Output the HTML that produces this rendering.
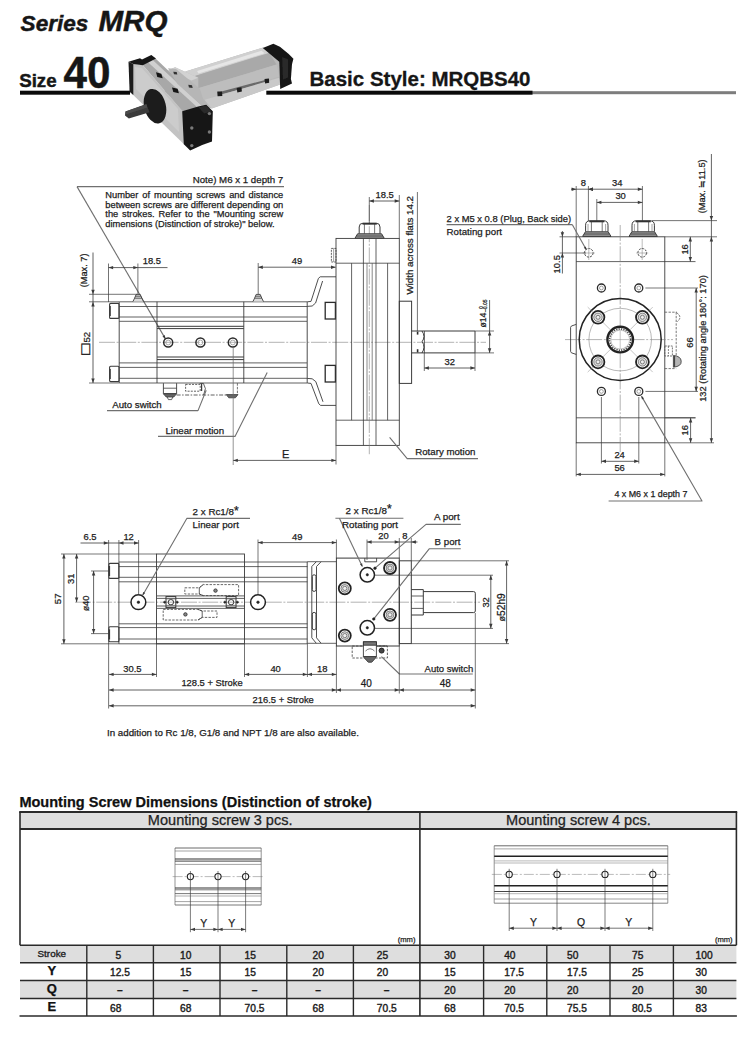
<!DOCTYPE html>
<html lang="en">
<head>
<meta charset="utf-8">
<title>Series MRQ Size 40 - Basic Style: MRQBS40</title>
<style>
html,body{margin:0;padding:0;background:#fff;}
body{width:750px;height:1042px;overflow:hidden;position:relative;}
svg{position:absolute;left:0;top:0;display:block;}
svg text{font-family:"Liberation Sans",Arial,Helvetica,sans-serif;}
</style>
</head>
<body>
<svg width="750" height="1042" viewBox="0 0 750 1042">
<defs>
<filter id="soft" x="-5%" y="-5%" width="110%" height="110%"><feGaussianBlur stdDeviation="0.7"/></filter>
<filter id="soft2" x="-5%" y="-5%" width="110%" height="110%"><feGaussianBlur stdDeviation="0.35"/></filter>
</defs>
<g id="header">
<rect x="532" y="91.2" width="204" height="3" fill="#7d7d7d"/>
<rect x="20" y="90.7" width="512.5" height="4" fill="#0a0a0a"/>
<g filter="url(#soft)">
<polygon points="130,89 133.3,89 133.3,95.7 130,95.7" fill="#ffffff"/>
<polygon points="244,89.6 266.3,89.6 266.3,95.4 244,95.4" fill="#ffffff"/>
<polygon points="185.3,71.4 263.1,47.5 279.2,61.4 280.2,84.6 211.7,108.6 185.3,103.9" fill="#b8b8b8"/>
<polygon points="185.3,71.4 263.1,47.5 269.2,52.9 185.3,79" fill="#d0d0d0"/>
<polygon points="197.1,70.9 261.6,50.8 264.5,53.3 198.5,73.4" fill="#e6e6e6"/>
<polygon points="185.3,79 269.2,52.9 276.6,64.6 189.7,90.7" fill="#a9a9a9"/>
<polygon points="189.7,90.7 276.6,64.6 279.2,76.4 204.4,99.8" fill="#bdbdbd"/>
<polygon points="168.1,70.2 175.1,67.3 198.3,77.8 198.3,90.1 188,93.9" fill="#bdbdbd"/>
<polygon points="168.1,70.2 175.1,67.3 198.3,77.8 191.5,80.5" fill="#d2d2d2"/>
<polygon points="217.6,92.5 268.9,79 269.5,81.6 218.5,95.1" fill="#6a6a6a"/>
<polygon points="204.4,99.8 279.2,77.8 280.2,84.6 211.7,108.6" fill="#c9c9c9"/>
<polygon points="217.3,91.5 222,91.5 222.3,95.9 217.6,96.2" fill="#1a1a1a"/>
<polygon points="236.7,88.1 241.4,87.2 241.9,91.6 237.3,92.5" fill="#1a1a1a"/>
<polygon points="264.5,79 268.9,78.4 269.2,82.8 265.1,83.4" fill="#1a1a1a"/>
<polygon points="262.8,47.9 273.3,43.8 279.9,46.7 288.7,54.1 293.4,58.8 292,64.3 290.9,79 292,83.4 280.2,89 279.2,61.7" fill="#151515"/>
<polygon points="282.1,57 288,59.2 288,77.5 282.9,79.7" fill="#2a2a2a"/>
<polygon points="142.7,65 155.3,58.3 205.3,105.7 182.7,111.9" fill="#a8a8a8"/>
<polygon points="148,62.3 152.7,59.9 202.7,106.6 198,107.9" fill="#d0d0d0"/>
<polygon points="168,68.3 176,69 200,89 205.3,105.7 202.7,106.6 177.3,83.7" fill="#b6b6b6"/>
<polygon points="156,72.3 161.3,73.7 162.7,78.3 157.3,77" fill="#151515"/>
<polygon points="172,87.4 177.6,88.7 178.9,93.3 173.3,91.9" fill="#151515"/>
<polygon points="173.3,71.7 176.7,72.1 177.3,74.6 174,74.2" fill="#333"/>
<polygon points="188.3,84.7 192,85.3 192.7,87.9 188.9,87.4" fill="#333"/>
<polygon points="132.7,63.7 142.7,65 183,111.5 184.2,144.4 132.7,94.6" fill="#c3c3c3"/>
<polygon points="135,67 142,68 178,109 179,132 136,89" fill="#cccccc"/>
<polygon points="128.5,61.7 133.3,63.9 133.3,94.9 129.6,91.7" fill="#1c1c1c"/>
<polygon points="128.5,61.7 140,58.3 142,59.4 151.3,54.9 156,58.6 142.9,65.3 133.3,64.1" fill="#141414"/>
<polygon points="182.2,111.2 198.2,106.4 206.2,104.8 212.8,111.2 212,141.6 202.2,145 190.2,150.6 183.8,144.2" fill="#151515"/>
<polygon points="198.5,107.2 206,105.6 211.6,111.4 204.2,113.4" fill="#2c2c2c"/>
<circle cx="191.8" cy="128" r="1.7" fill="#7a7a7a"/>
<circle cx="209.4" cy="113.6" r="1.7" fill="#7a7a7a"/>
<circle cx="209.4" cy="132" r="1.7" fill="#7a7a7a"/>
<circle cx="191.8" cy="145.6" r="1.7" fill="#7a7a7a"/>
<ellipse cx="155" cy="106.2" rx="10.8" ry="17.6" fill="#1b1b1b" transform="rotate(-14 155 106.2)"/>
<polygon points="125.4,111.4 146.4,104 149.6,112.2 128.8,118.6 125,115.6" fill="#3a3a3a"/>
<polygon points="125.6,111.4 146.4,104.2 147.2,107.4 125.6,114.6" fill="#4c4c4c"/>
</g>
</g>
<g id="draw1" filter="url(#soft2)">
<line x1="77" y1="186.6" x2="284" y2="186.6" stroke="#707070" stroke-width="1.1"/>
<line x1="77" y1="186.6" x2="165.3" y2="338.6" stroke="#707070" stroke-width="1.1"/>
<polygon points="165.6,339.2 162.5,336.4 164.7,335.1" fill="#3a3a3a"/>
<line x1="99" y1="342.3" x2="486" y2="342.3" stroke="#808080" stroke-width="0.6" stroke-dasharray="16 1.6 2 1.6"/>
<line x1="119.2" y1="301.8" x2="307" y2="301.8" stroke="#3a3a3a" stroke-width="0.8"/>
<line x1="119.2" y1="306.5" x2="307" y2="306.5" stroke="#3a3a3a" stroke-width="0.8"/>
<line x1="119.2" y1="317" x2="307" y2="317" stroke="#3a3a3a" stroke-width="0.8"/>
<line x1="119.2" y1="321.3" x2="307" y2="321.3" stroke="#3a3a3a" stroke-width="0.8"/>
<line x1="119.2" y1="362.9" x2="307" y2="362.9" stroke="#3a3a3a" stroke-width="0.8"/>
<line x1="119.2" y1="367.4" x2="307" y2="367.4" stroke="#3a3a3a" stroke-width="0.8"/>
<line x1="119.2" y1="378.3" x2="307" y2="378.3" stroke="#3a3a3a" stroke-width="0.8"/>
<line x1="119.2" y1="383" x2="307" y2="383" stroke="#3a3a3a" stroke-width="0.8"/>
<line x1="119.2" y1="301.8" x2="119.2" y2="383" stroke="#3a3a3a" stroke-width="0.9"/>
<line x1="157" y1="301.8" x2="157" y2="383" stroke="#3a3a3a" stroke-width="0.9"/>
<line x1="243.8" y1="301.8" x2="243.8" y2="383" stroke="#3a3a3a" stroke-width="0.9"/>
<line x1="307.2" y1="301.8" x2="307.2" y2="383" stroke="#3a3a3a" stroke-width="0.9"/>
<line x1="157" y1="326.3" x2="243.8" y2="326.3" stroke="#3a3a3a" stroke-width="1.0"/>
<line x1="157" y1="328.6" x2="243.8" y2="328.6" stroke="#3a3a3a" stroke-width="1.0"/>
<line x1="157" y1="357" x2="243.8" y2="357" stroke="#3a3a3a" stroke-width="1.0"/>
<line x1="157" y1="359.6" x2="243.8" y2="359.6" stroke="#3a3a3a" stroke-width="1.0"/>
<rect x="109.6" y="303.4" width="9.4" height="15" fill="none" stroke="#3a3a3a" stroke-width="1.1" rx="1"/>
<rect x="109.6" y="366.2" width="9.4" height="15.4" fill="none" stroke="#3a3a3a" stroke-width="1.1" rx="1"/>
<line x1="110" y1="306" x2="110" y2="316" stroke="#3a3a3a" stroke-width="1.6"/>
<line x1="110" y1="369" x2="110" y2="379" stroke="#3a3a3a" stroke-width="1.6"/>
<circle cx="168.2" cy="342.5" r="4.5" fill="none" stroke="#2a2a2a" stroke-width="1.5"/>
<circle cx="168.2" cy="342.5" r="2.4" fill="none" stroke="#777" stroke-width="0.6"/>
<circle cx="200.4" cy="342.5" r="4.5" fill="none" stroke="#2a2a2a" stroke-width="1.5"/>
<circle cx="200.4" cy="342.5" r="2.4" fill="none" stroke="#777" stroke-width="0.6"/>
<circle cx="232.8" cy="342.5" r="4.5" fill="none" stroke="#2a2a2a" stroke-width="1.5"/>
<circle cx="232.8" cy="342.5" r="2.4" fill="none" stroke="#777" stroke-width="0.6"/>
<polyline points="132.9,301.6 134.6,298.2 136.2,294.4 140.2,294.4 141.8,298.2 143.5,301.6" fill="#ddd" stroke="#3a3a3a" stroke-width="0.9" stroke-linejoin="round"/>
<line x1="134.6" y1="298.2" x2="141.8" y2="298.2" stroke="#3a3a3a" stroke-width="0.8"/>
<line x1="135.6" y1="296.2" x2="140.8" y2="296.2" stroke="#3a3a3a" stroke-width="0.8"/>
<polyline points="252.9,301.6 254.6,298.2 256.2,294.4 260.2,294.4 261.8,298.2 263.5,301.6" fill="#ddd" stroke="#3a3a3a" stroke-width="0.9" stroke-linejoin="round"/>
<line x1="254.6" y1="298.2" x2="261.8" y2="298.2" stroke="#3a3a3a" stroke-width="0.8"/>
<line x1="255.6" y1="296.2" x2="260.8" y2="296.2" stroke="#3a3a3a" stroke-width="0.8"/>
<line x1="93" y1="252.5" x2="93" y2="383" stroke="#3a3a3a" stroke-width="0.8"/>
<polygon points="93,294.3 91.3,289.7 94.7,289.7" fill="#3a3a3a"/>
<polygon points="93,301.8 94.7,306.4 91.3,306.4" fill="#3a3a3a"/>
<polygon points="93,383 91.3,378.4 94.7,378.4" fill="#3a3a3a"/>
<line x1="89" y1="294.3" x2="137" y2="294.3" stroke="#3a3a3a" stroke-width="0.7"/>
<line x1="89" y1="301.8" x2="119" y2="301.8" stroke="#3a3a3a" stroke-width="0.7"/>
<line x1="89" y1="383" x2="119" y2="383" stroke="#3a3a3a" stroke-width="0.7"/>
<line x1="108.5" y1="263.5" x2="108.5" y2="302" stroke="#3a3a3a" stroke-width="0.7"/>
<line x1="137.9" y1="263.5" x2="137.9" y2="294" stroke="#3a3a3a" stroke-width="0.7"/>
<line x1="108.5" y1="267.6" x2="167.5" y2="267.6" stroke="#3a3a3a" stroke-width="0.8"/>
<polygon points="108.5,267.6 113.1,265.9 113.1,269.3" fill="#3a3a3a"/>
<polygon points="137.9,267.6 133.3,269.3 133.3,265.9" fill="#3a3a3a"/>
<line x1="258.2" y1="263" x2="258.2" y2="294" stroke="#3a3a3a" stroke-width="0.7"/>
<line x1="258.2" y1="267.2" x2="335.6" y2="267.2" stroke="#3a3a3a" stroke-width="0.8"/>
<polygon points="258.2,267.2 262.8,265.5 262.8,268.9" fill="#3a3a3a"/>
<polygon points="335.6,267.2 331,268.9 331,265.5" fill="#3a3a3a"/>
<polyline points="336,276.8 320.2,276.8 318.4,278.4 311,301.4 307.2,301.8" fill="none" stroke="#3a3a3a" stroke-width="0.9" stroke-linejoin="round"/>
<polyline points="322.6,281 315.6,303 312.2,306 307.2,306.4" fill="none" stroke="#3a3a3a" stroke-width="0.9" stroke-linejoin="round"/>
<polyline points="336,405.4 320.6,405.4 318.8,403.8 311,383.4 307.2,383" fill="none" stroke="#3a3a3a" stroke-width="0.9" stroke-linejoin="round"/>
<polyline points="323,401.8 315.8,381.6 312.2,378.8 307.2,378.4" fill="none" stroke="#3a3a3a" stroke-width="0.9" stroke-linejoin="round"/>
<rect x="325.2" y="302.4" width="10.2" height="16.6" fill="#fff" stroke="#2a2a2a" stroke-width="1.3"/>
<rect x="325.2" y="365.4" width="10.2" height="16.6" fill="#fff" stroke="#2a2a2a" stroke-width="1.3"/>
<rect x="336" y="238.4" width="63.3" height="207" fill="none" stroke="#3a3a3a" stroke-width="0.9"/>
<line x1="336" y1="263.2" x2="399.3" y2="263.2" stroke="#3a3a3a" stroke-width="0.8"/>
<line x1="336" y1="420.2" x2="399.3" y2="420.2" stroke="#3a3a3a" stroke-width="0.8"/>
<line x1="351.6" y1="263.2" x2="351.6" y2="420.2" stroke="#3a3a3a" stroke-width="0.8"/>
<line x1="387.6" y1="263.2" x2="387.6" y2="420.2" stroke="#3a3a3a" stroke-width="0.8"/>
<line x1="363.4" y1="238.4" x2="363.4" y2="445.4" stroke="#3a3a3a" stroke-width="0.8"/>
<line x1="376" y1="238.4" x2="376" y2="445.4" stroke="#3a3a3a" stroke-width="0.8"/>
<line x1="367" y1="263.2" x2="367" y2="420.2" stroke="#555" stroke-width="0.7"/>
<line x1="372.2" y1="263.2" x2="372.2" y2="420.2" stroke="#555" stroke-width="0.7"/>
<line x1="369.3" y1="205" x2="369.3" y2="455" stroke="#808080" stroke-width="0.6" stroke-dasharray="16 1.6 2 1.6"/>
<rect x="331.4" y="248.4" width="4.6" height="13.6" fill="none" stroke="#3a3a3a" stroke-width="0.8" stroke-dasharray="2 1"/>
<line x1="333.6" y1="248.4" x2="333.6" y2="262" stroke="#666" stroke-width="0.6"/>
<path d="M359.2 233.6 L359.2 227 Q359.2 223.2 363 223.2 L376.2 223.2 Q380 223.2 380 227 L380 233.6" fill="none" stroke="#3a3a3a" stroke-width="1.0"/>
<line x1="362.5" y1="223.8" x2="376.8" y2="223.8" stroke="#333" stroke-width="1.7"/>
<polygon points="355,238.2 357.6,233.8 381.6,233.8 384.2,238.2" fill="#9a9a9a" stroke="#3a3a3a" stroke-width="1.0" stroke-linejoin="round"/>
<line x1="356.4" y1="236" x2="382.8" y2="236" stroke="#3a3a3a" stroke-width="0.8"/>
<line x1="364.4" y1="223.4" x2="364.4" y2="233.6" stroke="#3a3a3a" stroke-width="0.7"/>
<line x1="374.6" y1="223.4" x2="374.6" y2="233.6" stroke="#3a3a3a" stroke-width="0.7"/>
<rect x="399.3" y="301.2" width="12.3" height="82.2" fill="none" stroke="#3a3a3a" stroke-width="1.0"/>
<line x1="411.6" y1="331" x2="475" y2="331" stroke="#3a3a3a" stroke-width="1.0"/>
<line x1="411.6" y1="352.9" x2="475" y2="352.9" stroke="#3a3a3a" stroke-width="1.0"/>
<line x1="475" y1="331" x2="475" y2="352.9" stroke="#3a3a3a" stroke-width="1.0"/>
<path d="M422 331 Q425.8 336.4 422.2 341.6 Q425.8 347 422 353" fill="none" stroke="#3a3a3a" stroke-width="1.0"/>
<line x1="417.6" y1="331.6" x2="417.6" y2="334.6" stroke="#2a2a2a" stroke-width="1.6"/>
<line x1="417.6" y1="349.2" x2="417.6" y2="352.4" stroke="#2a2a2a" stroke-width="1.6"/>
<line x1="424.5" y1="331" x2="424.5" y2="353" stroke="#3a3a3a" stroke-width="0.7"/>
<line x1="369.3" y1="197" x2="369.3" y2="223" stroke="#3a3a3a" stroke-width="0.7"/>
<line x1="399.3" y1="195" x2="399.3" y2="238.4" stroke="#3a3a3a" stroke-width="0.7"/>
<line x1="369.3" y1="201" x2="399.3" y2="201" stroke="#3a3a3a" stroke-width="0.8"/>
<polygon points="369.3,201 373.9,199.3 373.9,202.7" fill="#3a3a3a"/>
<polygon points="399.3,201 394.7,202.7 394.7,199.3" fill="#3a3a3a"/>
<line x1="417.4" y1="192" x2="417.4" y2="331" stroke="#3a3a3a" stroke-width="0.7"/>
<line x1="475" y1="331" x2="494" y2="331" stroke="#3a3a3a" stroke-width="0.7"/>
<line x1="475" y1="352.9" x2="494" y2="352.9" stroke="#3a3a3a" stroke-width="0.7"/>
<line x1="489.6" y1="300" x2="489.6" y2="352.9" stroke="#3a3a3a" stroke-width="0.8"/>
<polygon points="489.6,331 491.3,335.6 487.9,335.6" fill="#3a3a3a"/>
<polygon points="489.6,352.9 487.9,348.3 491.3,348.3" fill="#3a3a3a"/>
<line x1="424.3" y1="353" x2="424.3" y2="371" stroke="#3a3a3a" stroke-width="0.7"/>
<line x1="475" y1="353" x2="475" y2="371" stroke="#3a3a3a" stroke-width="0.7"/>
<line x1="424.3" y1="368" x2="475" y2="368" stroke="#3a3a3a" stroke-width="0.8"/>
<polygon points="424.3,368 428.9,366.3 428.9,369.7" fill="#3a3a3a"/>
<polygon points="475,368 470.4,369.7 470.4,366.3" fill="#3a3a3a"/>
<polyline points="163.4,383.2 163.4,393.6 176.6,393.6 176.6,383.2" fill="none" stroke="#3a3a3a" stroke-width="0.9" stroke-linejoin="round"/>
<line x1="163.4" y1="388.2" x2="176.6" y2="388.2" stroke="#3a3a3a" stroke-width="0.8"/>
<polygon points="163.4,393.8 166.2,397 173.8,397 176.6,393.8" fill="#666" stroke="#3a3a3a" stroke-width="0.8" stroke-linejoin="round"/>
<polyline points="167.2,397 168.4,399.6 171.6,399.6 172.8,397" fill="none" stroke="#3a3a3a" stroke-width="0.8" stroke-linejoin="round"/>
<rect x="185.6" y="384.4" width="14.6" height="6.8" fill="none" stroke="#3a3a3a" stroke-width="0.8" stroke-dasharray="2 1.2"/>
<line x1="176.6" y1="395" x2="227" y2="395" stroke="#3a3a3a" stroke-width="0.8" stroke-dasharray="4 1.5 1.5 1.5"/>
<path d="M199.6 383.4 L203.4 383.4 L205.4 388.6 L203.6 395" fill="none" stroke="#3a3a3a" stroke-width="0.8"/>
<line x1="201.6" y1="383.4" x2="201.6" y2="391" stroke="#3a3a3a" stroke-width="1.2"/>
<polygon points="226.2,394.6 228.8,397.8 235.4,397.8 238,394.6" fill="#666" stroke="#3a3a3a" stroke-width="0.8" stroke-linejoin="round"/>
<line x1="237.4" y1="383.2" x2="237.4" y2="394.6" stroke="#3a3a3a" stroke-width="0.7" stroke-dasharray="2.5 1.2"/>
<line x1="233.2" y1="347" x2="233.2" y2="465" stroke="#666" stroke-width="0.7"/>
<polyline points="107,410.6 198,410.6 206.2,390.2" fill="none" stroke="#707070" stroke-width="1.1" stroke-linejoin="round"/>
<polyline points="158,436.4 235,436.4 267.2,372.6" fill="none" stroke="#707070" stroke-width="1.1" stroke-linejoin="round"/>
<line x1="336" y1="445.4" x2="336" y2="464.5" stroke="#3a3a3a" stroke-width="0.7"/>
<line x1="233.2" y1="460.4" x2="336" y2="460.4" stroke="#3a3a3a" stroke-width="0.8"/>
<polygon points="233.2,460.4 237.8,458.7 237.8,462.1" fill="#3a3a3a"/>
<polygon points="336,460.4 331.4,462.1 331.4,458.7" fill="#3a3a3a"/>
<polyline points="389.6,437.4 407.2,458.6 478,458.6" fill="none" stroke="#707070" stroke-width="1.1" stroke-linejoin="round"/>
</g>
<g id="draw2" filter="url(#soft2)">
<rect x="576.2" y="236.8" width="88.6" height="206" fill="none" stroke="#3a3a3a" stroke-width="0.9"/>
<line x1="576.2" y1="261.6" x2="695.5" y2="261.6" stroke="#3a3a3a" stroke-width="0.8"/>
<line x1="576.2" y1="417.8" x2="695.5" y2="417.8" stroke="#3a3a3a" stroke-width="0.8"/>
<line x1="620.2" y1="225" x2="620.2" y2="452" stroke="#808080" stroke-width="0.6" stroke-dasharray="16 1.6 2 1.6"/>
<line x1="565" y1="339.6" x2="673" y2="339.6" stroke="#808080" stroke-width="0.6" stroke-dasharray="16 1.6 2 1.6"/>
<polyline points="576.2,324.4 571.4,326 570.6,327.4 570.6,351.4 571.4,352.8 576.2,354.4" fill="none" stroke="#3a3a3a" stroke-width="0.9" stroke-linejoin="round"/>
<path d="M585.6 231.6 L585.6 225.2 Q585.6 220.8 590 220.8 L603.6 220.8 Q608 220.8 608 225.2 L608 231.6" fill="none" stroke="#3a3a3a" stroke-width="1.0"/>
<line x1="589.3" y1="221.4" x2="604.3" y2="221.4" stroke="#333" stroke-width="1.8"/>
<polygon points="582.6,236.4 585.4,231.8 608.2,231.8 611,236.4" fill="#9a9a9a" stroke="#3a3a3a" stroke-width="1.0" stroke-linejoin="round"/>
<line x1="584.2" y1="234" x2="609.4" y2="234" stroke="#3a3a3a" stroke-width="0.8"/>
<line x1="591.4" y1="221" x2="591.4" y2="231.6" stroke="#3a3a3a" stroke-width="0.7"/>
<line x1="602.2" y1="221" x2="602.2" y2="231.6" stroke="#3a3a3a" stroke-width="0.7"/>
<line x1="588" y1="224" x2="588" y2="231.6" stroke="#666" stroke-width="0.6"/>
<line x1="605.6" y1="224" x2="605.6" y2="231.6" stroke="#666" stroke-width="0.6"/>
<path d="M632 231.6 L632 225.2 Q632 220.8 636.4 220.8 L650 220.8 Q654.4 220.8 654.4 225.2 L654.4 231.6" fill="none" stroke="#3a3a3a" stroke-width="1.0"/>
<line x1="635.7" y1="221.4" x2="650.7" y2="221.4" stroke="#333" stroke-width="1.8"/>
<polygon points="629,236.4 631.8,231.8 654.6,231.8 657.4,236.4" fill="#9a9a9a" stroke="#3a3a3a" stroke-width="1.0" stroke-linejoin="round"/>
<line x1="630.6" y1="234" x2="655.8" y2="234" stroke="#3a3a3a" stroke-width="0.8"/>
<line x1="637.8" y1="221" x2="637.8" y2="231.6" stroke="#3a3a3a" stroke-width="0.7"/>
<line x1="648.6" y1="221" x2="648.6" y2="231.6" stroke="#3a3a3a" stroke-width="0.7"/>
<line x1="634.4" y1="224" x2="634.4" y2="231.6" stroke="#666" stroke-width="0.6"/>
<line x1="652" y1="224" x2="652" y2="231.6" stroke="#666" stroke-width="0.6"/>
<circle cx="588.8" cy="252.8" r="4.3" fill="none" stroke="#3a3a3a" stroke-width="0.9" stroke-dasharray="2.2 1"/>
<line x1="582.8" y1="253" x2="594.8" y2="253" stroke="#777" stroke-width="0.5"/>
<line x1="588.8" y1="239" x2="588.8" y2="260" stroke="#777" stroke-width="0.5"/>
<circle cx="642.2" cy="252.8" r="4.3" fill="none" stroke="#3a3a3a" stroke-width="0.9" stroke-dasharray="2.2 1"/>
<line x1="636.2" y1="253" x2="648.2" y2="253" stroke="#777" stroke-width="0.5"/>
<line x1="642.2" y1="239" x2="642.2" y2="260" stroke="#777" stroke-width="0.5"/>
<circle cx="601.4" cy="288" r="4" fill="none" stroke="#2a2a2a" stroke-width="1.3"/>
<circle cx="601.4" cy="288" r="1.9" fill="none" stroke="#666" stroke-width="0.6"/>
<circle cx="601.4" cy="391.4" r="4" fill="none" stroke="#2a2a2a" stroke-width="1.3"/>
<circle cx="601.4" cy="391.4" r="1.9" fill="none" stroke="#666" stroke-width="0.6"/>
<circle cx="638.8" cy="288" r="4" fill="none" stroke="#2a2a2a" stroke-width="1.3"/>
<circle cx="638.8" cy="288" r="1.9" fill="none" stroke="#666" stroke-width="0.6"/>
<circle cx="638.8" cy="391.4" r="4" fill="none" stroke="#2a2a2a" stroke-width="1.3"/>
<circle cx="638.8" cy="391.4" r="1.9" fill="none" stroke="#666" stroke-width="0.6"/>
<circle cx="620.2" cy="339.6" r="41" fill="none" stroke="#222" stroke-width="1.5"/>
<circle cx="620.2" cy="339.6" r="31.3" fill="none" stroke="#888" stroke-width="0.6"/>
<line x1="630.1" y1="349.5" x2="652.7" y2="372.1" stroke="#888" stroke-width="0.5"/>
<line x1="621.6" y1="341" x2="626.6" y2="346" stroke="#888" stroke-width="0.5"/>
<line x1="610.3" y1="349.5" x2="587.7" y2="372.1" stroke="#888" stroke-width="0.5"/>
<line x1="618.8" y1="341" x2="613.8" y2="346" stroke="#888" stroke-width="0.5"/>
<line x1="610.3" y1="329.7" x2="587.7" y2="307.1" stroke="#888" stroke-width="0.5"/>
<line x1="618.8" y1="338.2" x2="613.8" y2="333.2" stroke="#888" stroke-width="0.5"/>
<line x1="630.1" y1="329.7" x2="652.7" y2="307.1" stroke="#888" stroke-width="0.5"/>
<line x1="621.6" y1="338.2" x2="626.6" y2="333.2" stroke="#888" stroke-width="0.5"/>
<circle cx="598" cy="317.3" r="6.4" fill="#fff" stroke="#222" stroke-width="1.8"/>
<circle cx="598" cy="317.3" r="4.2" fill="#dcdcdc" stroke="#666" stroke-width="0.8"/>
<circle cx="598" cy="317.3" r="2" fill="#eee" stroke="#666" stroke-width="0.8"/>
<circle cx="598" cy="361.9" r="6.4" fill="#fff" stroke="#222" stroke-width="1.8"/>
<circle cx="598" cy="361.9" r="4.2" fill="#dcdcdc" stroke="#666" stroke-width="0.8"/>
<circle cx="598" cy="361.9" r="2" fill="#eee" stroke="#666" stroke-width="0.8"/>
<circle cx="642.4" cy="317.3" r="6.4" fill="#fff" stroke="#222" stroke-width="1.8"/>
<circle cx="642.4" cy="317.3" r="4.2" fill="#dcdcdc" stroke="#666" stroke-width="0.8"/>
<circle cx="642.4" cy="317.3" r="2" fill="#eee" stroke="#666" stroke-width="0.8"/>
<circle cx="642.4" cy="361.9" r="6.4" fill="#fff" stroke="#222" stroke-width="1.8"/>
<circle cx="642.4" cy="361.9" r="4.2" fill="#dcdcdc" stroke="#666" stroke-width="0.8"/>
<circle cx="642.4" cy="361.9" r="2" fill="#eee" stroke="#666" stroke-width="0.8"/>
<circle cx="620.2" cy="339.6" r="12.8" fill="#fff" stroke="#222" stroke-width="2.4"/>
<circle cx="620.2" cy="339.6" r="10.6" fill="none" stroke="#444" stroke-width="1.6" stroke-dasharray="1.2 1.2"/>
<circle cx="620.2" cy="339.6" r="9.4" fill="none" stroke="#888" stroke-width="0.5"/>
<line x1="611.2" y1="339.6" x2="629.2" y2="339.6" stroke="#888" stroke-width="0.5"/>
<line x1="620.2" y1="330.6" x2="620.2" y2="348.6" stroke="#888" stroke-width="0.5"/>
<line x1="664.8" y1="312.2" x2="677" y2="312.2" stroke="#555" stroke-width="0.8" stroke-dasharray="2.4 1.3"/>
<path d="M677 313 Q682.6 317 677.4 321.6" fill="none" stroke="#555" stroke-width="0.8" stroke-dasharray="2 1"/>
<line x1="676.2" y1="312.2" x2="676.2" y2="356" stroke="#555" stroke-width="0.8" stroke-dasharray="2.4 1.3"/>
<rect x="664.8" y="346" width="7.6" height="10" fill="none" stroke="#555" stroke-width="0.8" stroke-dasharray="2 1"/>
<line x1="668.4" y1="346" x2="668.4" y2="356" stroke="#555" stroke-width="0.7" stroke-dasharray="2 1"/>
<path d="M673.4 355.4 L673.4 367.2 Q681.6 366.4 681.2 361.2 Q681 356.2 673.4 355.4 Z" fill="#b5b5b5" stroke="#444" stroke-width="0.9"/>
<line x1="674.4" y1="356" x2="674.4" y2="367" stroke="#444" stroke-width="1.4"/>
<line x1="664.8" y1="368.6" x2="676.2" y2="368.6" stroke="#555" stroke-width="0.8" stroke-dasharray="2.4 1.3"/>
<line x1="576.2" y1="186" x2="576.2" y2="236.8" stroke="#3a3a3a" stroke-width="0.7"/>
<line x1="588.4" y1="186" x2="588.4" y2="221" stroke="#3a3a3a" stroke-width="0.7"/>
<line x1="642.4" y1="186" x2="642.4" y2="221" stroke="#3a3a3a" stroke-width="0.7"/>
<line x1="571" y1="189.2" x2="642.4" y2="189.2" stroke="#3a3a3a" stroke-width="0.8"/>
<polygon points="576.2,189.2 571.6,190.9 571.6,187.5" fill="#3a3a3a"/>
<polygon points="588.4,189.2 593,187.5 593,190.9" fill="#3a3a3a"/>
<polygon points="588.4,189.2 593,187.5 593,190.9" fill="#3a3a3a"/>
<polygon points="642.4,189.2 637.8,190.9 637.8,187.5" fill="#3a3a3a"/>
<polygon points="588.4,189.2 588.3,189.3 588.3,189.1" fill="#3a3a3a"/>
<line x1="596.8" y1="199" x2="596.8" y2="221" stroke="#3a3a3a" stroke-width="0.7"/>
<line x1="596.8" y1="202.4" x2="642.4" y2="202.4" stroke="#3a3a3a" stroke-width="0.8"/>
<polygon points="596.8,202.4 601.4,200.7 601.4,204.1" fill="#3a3a3a"/>
<polygon points="642.4,202.4 637.8,204.1 637.8,200.7" fill="#3a3a3a"/>
<line x1="562.4" y1="231" x2="562.4" y2="273.5" stroke="#3a3a3a" stroke-width="0.8"/>
<polygon points="562.4,236.8 560.7,232.2 564.1,232.2" fill="#3a3a3a"/>
<polygon points="562.4,253 564.1,257.6 560.7,257.6" fill="#3a3a3a"/>
<line x1="559.5" y1="236.8" x2="576.2" y2="236.8" stroke="#3a3a3a" stroke-width="0.7"/>
<line x1="559.5" y1="253" x2="586" y2="253" stroke="#3a3a3a" stroke-width="0.7"/>
<line x1="446.6" y1="224.6" x2="572.2" y2="224.6" stroke="#707070" stroke-width="1.1"/>
<line x1="572.2" y1="224.6" x2="586.2" y2="249.6" stroke="#707070" stroke-width="1.1"/>
<polygon points="586.6,250.2 583.8,247.7 585.8,246.5" fill="#3a3a3a"/>
<line x1="652" y1="220.6" x2="717" y2="220.6" stroke="#3a3a3a" stroke-width="0.7"/>
<line x1="664.8" y1="236.8" x2="717" y2="236.8" stroke="#3a3a3a" stroke-width="0.7"/>
<line x1="711.4" y1="154" x2="711.4" y2="442.8" stroke="#3a3a3a" stroke-width="0.8"/>
<polygon points="711.4,220.6 709.7,216 713.1,216" fill="#3a3a3a"/>
<polygon points="711.4,236.8 713.1,241.4 709.7,241.4" fill="#3a3a3a"/>
<polygon points="711.4,442.8 709.7,438.2 713.1,438.2" fill="#3a3a3a"/>
<line x1="690.3" y1="236.8" x2="690.3" y2="261.6" stroke="#3a3a3a" stroke-width="0.8"/>
<polygon points="690.3,236.8 692,241.4 688.6,241.4" fill="#3a3a3a"/>
<polygon points="690.3,261.6 688.6,257 692,257" fill="#3a3a3a"/>
<line x1="645.4" y1="288" x2="698" y2="288" stroke="#3a3a3a" stroke-width="0.7"/>
<line x1="645.4" y1="391.4" x2="698" y2="391.4" stroke="#3a3a3a" stroke-width="0.7"/>
<line x1="696.2" y1="288" x2="696.2" y2="391.4" stroke="#3a3a3a" stroke-width="0.8"/>
<polygon points="696.2,288 697.9,292.6 694.5,292.6" fill="#3a3a3a"/>
<polygon points="696.2,391.4 694.5,386.8 697.9,386.8" fill="#3a3a3a"/>
<line x1="664.8" y1="417.8" x2="695.5" y2="417.8" stroke="#3a3a3a" stroke-width="0.7"/>
<line x1="664.8" y1="442.8" x2="714" y2="442.8" stroke="#3a3a3a" stroke-width="0.7"/>
<line x1="690.6" y1="417.8" x2="690.6" y2="442.8" stroke="#3a3a3a" stroke-width="0.8"/>
<polygon points="690.6,417.8 692.3,422.4 688.9,422.4" fill="#3a3a3a"/>
<polygon points="690.6,442.8 688.9,438.2 692.3,438.2" fill="#3a3a3a"/>
<line x1="601.4" y1="397" x2="601.4" y2="463.5" stroke="#3a3a3a" stroke-width="0.7"/>
<line x1="638.8" y1="397" x2="638.8" y2="463.5" stroke="#3a3a3a" stroke-width="0.7"/>
<line x1="601.4" y1="461.3" x2="638.8" y2="461.3" stroke="#3a3a3a" stroke-width="0.8"/>
<polygon points="601.4,461.3 606,459.6 606,463" fill="#3a3a3a"/>
<polygon points="638.8,461.3 634.2,463 634.2,459.6" fill="#3a3a3a"/>
<line x1="576.2" y1="442.8" x2="576.2" y2="476.4" stroke="#3a3a3a" stroke-width="0.7"/>
<line x1="664.8" y1="442.8" x2="664.8" y2="476.4" stroke="#3a3a3a" stroke-width="0.7"/>
<line x1="576.2" y1="474.4" x2="664.8" y2="474.4" stroke="#3a3a3a" stroke-width="0.8"/>
<polygon points="576.2,474.4 580.8,472.7 580.8,476.1" fill="#3a3a3a"/>
<polygon points="664.8,474.4 660.2,476.1 660.2,472.7" fill="#3a3a3a"/>
<polyline points="608.6,501 702,501 641.6,396.4" fill="none" stroke="#707070" stroke-width="1.1" stroke-linejoin="round"/>
<polygon points="641.2,395.8 644,398.3 642,399.5" fill="#3a3a3a"/>
</g>
<g id="draw3" filter="url(#soft2)">
<line x1="75" y1="602.2" x2="480" y2="602.2" stroke="#808080" stroke-width="0.6" stroke-dasharray="16 1.6 2 1.6"/>
<line x1="118.9" y1="562" x2="307.4" y2="562" stroke="#3a3a3a" stroke-width="0.8"/>
<line x1="118.9" y1="566.6" x2="307.4" y2="566.6" stroke="#3a3a3a" stroke-width="0.8"/>
<line x1="118.9" y1="577.3" x2="307.4" y2="577.3" stroke="#3a3a3a" stroke-width="0.8"/>
<line x1="118.9" y1="581.8" x2="307.4" y2="581.8" stroke="#3a3a3a" stroke-width="0.8"/>
<line x1="118.9" y1="623.8" x2="307.4" y2="623.8" stroke="#3a3a3a" stroke-width="0.8"/>
<line x1="118.9" y1="627.6" x2="307.4" y2="627.6" stroke="#3a3a3a" stroke-width="0.8"/>
<line x1="118.9" y1="639" x2="307.4" y2="639" stroke="#3a3a3a" stroke-width="0.8"/>
<line x1="118.9" y1="643.8" x2="307.4" y2="643.8" stroke="#3a3a3a" stroke-width="0.8"/>
<line x1="118.9" y1="562" x2="118.9" y2="643.8" stroke="#3a3a3a" stroke-width="0.9"/>
<rect x="108.9" y="563.4" width="10" height="15" fill="none" stroke="#3a3a3a" stroke-width="1.1" rx="1"/>
<rect x="108.9" y="626.8" width="10" height="15" fill="none" stroke="#3a3a3a" stroke-width="1.1" rx="1"/>
<line x1="109.3" y1="566" x2="109.3" y2="576" stroke="#3a3a3a" stroke-width="1.6"/>
<line x1="109.3" y1="629.4" x2="109.3" y2="639.4" stroke="#3a3a3a" stroke-width="1.6"/>
<rect x="156.5" y="554" width="88" height="89.8" fill="none" stroke="#3a3a3a" stroke-width="0.9"/>
<line x1="157" y1="595.9" x2="244.5" y2="595.9" stroke="#3a3a3a" stroke-width="0.8"/>
<line x1="157" y1="598.4" x2="244.5" y2="598.4" stroke="#3a3a3a" stroke-width="0.8"/>
<line x1="157" y1="606" x2="244.5" y2="606" stroke="#3a3a3a" stroke-width="0.8"/>
<line x1="157" y1="608.4" x2="244.5" y2="608.4" stroke="#3a3a3a" stroke-width="0.8"/>
<rect x="166" y="596.6" width="9.8" height="11" fill="none" stroke="#333" stroke-width="1.0"/>
<circle cx="170.9" cy="602.2" r="2.7" fill="none" stroke="#333" stroke-width="1.0"/>
<circle cx="164.6" cy="602.2" r="1" fill="#222" stroke="#222" stroke-width="0.6"/>
<circle cx="177.2" cy="602.2" r="1" fill="#222" stroke="#222" stroke-width="0.6"/>
<line x1="166" y1="599" x2="175.8" y2="599" stroke="#666" stroke-width="0.6"/>
<line x1="166" y1="605.4" x2="175.8" y2="605.4" stroke="#666" stroke-width="0.6"/>
<rect x="226.2" y="596.6" width="9.8" height="11" fill="none" stroke="#333" stroke-width="1.0"/>
<circle cx="231.1" cy="602.2" r="2.7" fill="none" stroke="#333" stroke-width="1.0"/>
<circle cx="224.8" cy="602.2" r="1" fill="#222" stroke="#222" stroke-width="0.6"/>
<circle cx="237.4" cy="602.2" r="1" fill="#222" stroke="#222" stroke-width="0.6"/>
<line x1="226.2" y1="599" x2="236" y2="599" stroke="#666" stroke-width="0.6"/>
<line x1="226.2" y1="605.4" x2="236" y2="605.4" stroke="#666" stroke-width="0.6"/>
<path d="M184.8 587.8 H199.3 L203.2 584.6 H238.6 V595.6 H203.2 L199.3 594 H184.8 Z" fill="none" stroke="#444" stroke-width="0.8" stroke-dasharray="2.4 1.3"/>
<path d="M199.3 587.8 L203.2 584.6 M199.3 594 L203.2 595.6 M199.3 587.8 V594" fill="none" stroke="#3a3a3a" stroke-width="0.8"/>
<circle cx="215.5" cy="590.6" r="1.7" fill="#888" stroke="#333" stroke-width="0.9"/>
<path d="M163.2 609.4 H198 L202.2 611 H217 V617.4 H202.2 L198 620 H163.2 Z" fill="none" stroke="#444" stroke-width="0.8" stroke-dasharray="2.4 1.3"/>
<path d="M198 609.4 L202.2 611 M198 620 L202.2 617.4 M202.2 611 V617.4" fill="none" stroke="#3a3a3a" stroke-width="0.8"/>
<circle cx="185.4" cy="614.4" r="1.7" fill="#888" stroke="#333" stroke-width="0.9"/>
<circle cx="138.4" cy="602.2" r="7.4" fill="#fff" stroke="#222" stroke-width="1.5"/>
<circle cx="138.4" cy="602.2" r="1.3" fill="#222" stroke="#222" stroke-width="0.5"/>
<circle cx="258" cy="602.2" r="7.4" fill="#fff" stroke="#222" stroke-width="1.5"/>
<circle cx="258" cy="602.2" r="1.3" fill="#222" stroke="#222" stroke-width="0.5"/>
<line x1="307.2" y1="562" x2="307.2" y2="643.8" stroke="#3a3a3a" stroke-width="0.9"/>
<line x1="307.2" y1="561.7" x2="336.4" y2="561.7" stroke="#3a3a3a" stroke-width="0.8"/>
<line x1="307.2" y1="643.3" x2="336.4" y2="643.3" stroke="#3a3a3a" stroke-width="0.8"/>
<line x1="311.8" y1="566.5" x2="311.8" y2="637.8" stroke="#3a3a3a" stroke-width="0.9"/>
<line x1="316.5" y1="566.5" x2="316.5" y2="637.8" stroke="#3a3a3a" stroke-width="0.9"/>
<line x1="311.8" y1="566.5" x2="316.2" y2="561.8" stroke="#3a3a3a" stroke-width="0.9"/>
<line x1="316.5" y1="566.5" x2="321" y2="561.8" stroke="#3a3a3a" stroke-width="0.9"/>
<line x1="311.8" y1="637.8" x2="316.2" y2="643.2" stroke="#3a3a3a" stroke-width="0.9"/>
<line x1="316.5" y1="637.8" x2="321" y2="643.2" stroke="#3a3a3a" stroke-width="0.9"/>
<rect x="312.3" y="574.8" width="3.7" height="16.6" fill="none" stroke="#3a3a3a" stroke-width="1.0" rx="1.8"/>
<rect x="312.3" y="612.4" width="3.7" height="17.4" fill="none" stroke="#3a3a3a" stroke-width="1.0" rx="1.8"/>
<rect x="336.4" y="558.1" width="62.9" height="87.9" fill="none" stroke="#3a3a3a" stroke-width="1.0"/>
<path d="M364.8 558.1 L364.8 561.8 L376.6 561.8 L376.6 558.1" fill="none" stroke="#3a3a3a" stroke-width="0.9"/>
<circle cx="367.3" cy="574.8" r="7.2" fill="#fff" stroke="#222" stroke-width="1.5"/>
<circle cx="367.3" cy="574.8" r="1.2" fill="#222" stroke="#222" stroke-width="0.5"/>
<circle cx="367.3" cy="627.8" r="7.2" fill="#fff" stroke="#222" stroke-width="1.5"/>
<circle cx="367.3" cy="627.8" r="1.2" fill="#222" stroke="#222" stroke-width="0.5"/>
<circle cx="390" cy="568" r="6" fill="#fff" stroke="#222" stroke-width="1.8"/>
<circle cx="390" cy="568" r="3.9" fill="#ddd" stroke="#666" stroke-width="0.8"/>
<circle cx="390" cy="568" r="2.1" fill="#eee" stroke="#666" stroke-width="0.8"/>
<circle cx="344.8" cy="588.4" r="6" fill="#fff" stroke="#222" stroke-width="1.8"/>
<circle cx="344.8" cy="588.4" r="3.9" fill="#ddd" stroke="#666" stroke-width="0.8"/>
<circle cx="344.8" cy="588.4" r="2.1" fill="#eee" stroke="#666" stroke-width="0.8"/>
<circle cx="390" cy="614.8" r="6" fill="#fff" stroke="#222" stroke-width="1.8"/>
<circle cx="390" cy="614.8" r="3.9" fill="#ddd" stroke="#666" stroke-width="0.8"/>
<circle cx="390" cy="614.8" r="2.1" fill="#eee" stroke="#666" stroke-width="0.8"/>
<circle cx="344.8" cy="635.6" r="6" fill="#fff" stroke="#222" stroke-width="1.8"/>
<circle cx="344.8" cy="635.6" r="3.9" fill="#ddd" stroke="#666" stroke-width="0.8"/>
<circle cx="344.8" cy="635.6" r="2.1" fill="#eee" stroke="#666" stroke-width="0.8"/>
<rect x="399.3" y="560.8" width="12" height="82.8" fill="none" stroke="#3a3a3a" stroke-width="1.0"/>
<polyline points="411.3,589.6 423.3,589.6 423.3,615 411.3,615" fill="none" stroke="#3a3a3a" stroke-width="1.0" stroke-linejoin="round"/>
<line x1="411.3" y1="596" x2="423.3" y2="596" stroke="#3a3a3a" stroke-width="0.8"/>
<line x1="411.3" y1="608.4" x2="423.3" y2="608.4" stroke="#3a3a3a" stroke-width="0.8"/>
<path d="M423.3 591.6 L473.6 591.6 Q475.3 591.6 475.3 593.2 L475.3 611.0 Q475.3 612.6 473.6 612.6 L423.3 612.6" fill="none" stroke="#3a3a3a" stroke-width="1.0"/>
<rect x="352.2" y="646" width="35.2" height="12" fill="none" stroke="#3a3a3a" stroke-width="0.8" stroke-dasharray="2.4 1.4"/>
<polygon points="363.4,641.8 363.4,656.6 376.4,656.6 376.4,641.8" fill="#fff" stroke="#3a3a3a" stroke-width="0.9" stroke-linejoin="round"/>
<rect x="363.4" y="641.8" width="13" height="3.4" fill="#777" stroke="#333" stroke-width="0.9"/>
<path d="M365.5 651 Q370 646.5 374.5 651" fill="none" stroke="#555" stroke-width="0.8"/>
<polygon points="363.4,656.6 366.6,660.6 368.4,662.2 371.6,662.2 373.4,660.6 376.4,656.6" fill="#666" stroke="#3a3a3a" stroke-width="0.9" stroke-linejoin="round"/>
<circle cx="381.6" cy="650.6" r="2.5" fill="#444" stroke="#222" stroke-width="1.0"/>
<line x1="377" y1="646" x2="387" y2="646" stroke="#3a3a3a" stroke-width="0.8"/>
<line x1="118.9" y1="540" x2="118.9" y2="562" stroke="#3a3a3a" stroke-width="0.7"/>
<line x1="138.6" y1="540" x2="138.6" y2="595" stroke="#3a3a3a" stroke-width="0.7"/>
<line x1="80.5" y1="543" x2="138.6" y2="543" stroke="#3a3a3a" stroke-width="0.8"/>
<polygon points="108.4,543 103.8,544.7 103.8,541.3" fill="#3a3a3a"/>
<polygon points="118.9,543 123.5,541.3 123.5,544.7" fill="#3a3a3a"/>
<polygon points="118.9,543 119,542.9 119,543.1" fill="#3a3a3a"/>
<polygon points="138.6,543 134,544.7 134,541.3" fill="#3a3a3a"/>
<line x1="61" y1="554" x2="156.5" y2="554" stroke="#3a3a3a" stroke-width="0.7"/>
<line x1="61" y1="643.8" x2="118.9" y2="643.8" stroke="#3a3a3a" stroke-width="0.7"/>
<line x1="63.9" y1="554" x2="63.9" y2="643.8" stroke="#3a3a3a" stroke-width="0.8"/>
<polygon points="63.9,554 65.6,558.6 62.2,558.6" fill="#3a3a3a"/>
<polygon points="63.9,643.8 62.2,639.2 65.6,639.2" fill="#3a3a3a"/>
<line x1="76.6" y1="554" x2="76.6" y2="602.2" stroke="#3a3a3a" stroke-width="0.8"/>
<polygon points="76.6,554 78.3,558.6 74.9,558.6" fill="#3a3a3a"/>
<polygon points="76.6,602.2 74.9,597.6 78.3,597.6" fill="#3a3a3a"/>
<line x1="91" y1="571" x2="108.9" y2="571" stroke="#3a3a3a" stroke-width="0.7"/>
<line x1="91" y1="633.6" x2="108.9" y2="633.6" stroke="#3a3a3a" stroke-width="0.7"/>
<line x1="93.6" y1="571" x2="93.6" y2="633.6" stroke="#3a3a3a" stroke-width="0.8"/>
<polygon points="93.6,571 95.3,575.6 91.9,575.6" fill="#3a3a3a"/>
<polygon points="93.6,633.6 91.9,629 95.3,629" fill="#3a3a3a"/>
<polyline points="250,518.4 186.8,518.4 142.8,595" fill="none" stroke="#707070" stroke-width="1.1" stroke-linejoin="round"/>
<polygon points="142.4,595.6 143.2,591.9 145.2,593.1" fill="#3a3a3a"/>
<line x1="258" y1="539.5" x2="258" y2="594" stroke="#3a3a3a" stroke-width="0.7"/>
<line x1="258" y1="542.6" x2="336.4" y2="542.6" stroke="#3a3a3a" stroke-width="0.8"/>
<polygon points="258,542.6 262.6,540.9 262.6,544.3" fill="#3a3a3a"/>
<polygon points="336.4,542.6 331.8,544.3 331.8,540.9" fill="#3a3a3a"/>
<line x1="336.4" y1="539.5" x2="336.4" y2="558" stroke="#3a3a3a" stroke-width="0.7"/>
<line x1="367" y1="539.5" x2="367" y2="560" stroke="#3a3a3a" stroke-width="0.7"/>
<line x1="399.3" y1="538" x2="399.3" y2="558" stroke="#3a3a3a" stroke-width="0.7"/>
<line x1="411.3" y1="538" x2="411.3" y2="560.8" stroke="#3a3a3a" stroke-width="0.7"/>
<line x1="367" y1="542" x2="417.5" y2="542" stroke="#3a3a3a" stroke-width="0.8"/>
<polygon points="367,542 371.6,540.3 371.6,543.7" fill="#3a3a3a"/>
<polygon points="399.3,542 394.7,543.7 394.7,540.3" fill="#3a3a3a"/>
<polygon points="399.3,542 399.2,542.1 399.2,541.9" fill="#3a3a3a"/>
<polygon points="411.3,542 415.9,540.3 415.9,543.7" fill="#3a3a3a"/>
<polyline points="403.4,518.2 335.4,518.2" fill="none" stroke="#707070" stroke-width="1.1" stroke-linejoin="round"/>
<line x1="339.4" y1="518.2" x2="362.2" y2="566.2" stroke="#707070" stroke-width="1.1"/>
<polygon points="362.6,567 360,564.3 362.1,563.2" fill="#3a3a3a"/>
<polyline points="460.8,524.4 426,524.4 375.6,567.6" fill="none" stroke="#707070" stroke-width="1.1" stroke-linejoin="round"/>
<circle cx="375" cy="568.2" r="1.3" fill="#222" stroke="#222" stroke-width="0.5"/>
<polyline points="460.8,548.8 429.2,548.8 374.2,618.4" fill="none" stroke="#707070" stroke-width="1.1" stroke-linejoin="round"/>
<circle cx="373.8" cy="619" r="1.3" fill="#222" stroke="#222" stroke-width="0.5"/>
<line x1="374.5" y1="575.2" x2="493" y2="575.2" stroke="#3a3a3a" stroke-width="0.7"/>
<line x1="374.5" y1="628.4" x2="493" y2="628.4" stroke="#3a3a3a" stroke-width="0.7"/>
<line x1="490.8" y1="575.2" x2="490.8" y2="628.4" stroke="#3a3a3a" stroke-width="0.8"/>
<polygon points="490.8,575.2 492.5,579.8 489.1,579.8" fill="#3a3a3a"/>
<polygon points="490.8,628.4 489.1,623.8 492.5,623.8" fill="#3a3a3a"/>
<line x1="411.3" y1="560.8" x2="509" y2="560.8" stroke="#3a3a3a" stroke-width="0.7"/>
<line x1="411.3" y1="643.6" x2="509" y2="643.6" stroke="#3a3a3a" stroke-width="0.7"/>
<line x1="506.6" y1="560.8" x2="506.6" y2="643.6" stroke="#3a3a3a" stroke-width="0.8"/>
<polygon points="506.6,560.8 508.3,565.4 504.9,565.4" fill="#3a3a3a"/>
<polygon points="506.6,643.6 504.9,639 508.3,639" fill="#3a3a3a"/>
<polyline points="472.8,674 399.4,674 381.4,656.6" fill="none" stroke="#707070" stroke-width="1.1" stroke-linejoin="round"/>
<line x1="108.6" y1="540" x2="108.6" y2="708.5" stroke="#3a3a3a" stroke-width="0.7"/>
<line x1="156.5" y1="643.8" x2="156.5" y2="677" stroke="#3a3a3a" stroke-width="0.7"/>
<line x1="109" y1="674.4" x2="156.5" y2="674.4" stroke="#3a3a3a" stroke-width="0.8"/>
<polygon points="109,674.4 113.6,672.7 113.6,676.1" fill="#3a3a3a"/>
<polygon points="156.5,674.4 151.9,676.1 151.9,672.7" fill="#3a3a3a"/>
<line x1="244.5" y1="643.8" x2="244.5" y2="677" stroke="#3a3a3a" stroke-width="0.7"/>
<line x1="307.4" y1="643.8" x2="307.4" y2="677" stroke="#3a3a3a" stroke-width="0.7"/>
<line x1="336.4" y1="646" x2="336.4" y2="693" stroke="#3a3a3a" stroke-width="0.7"/>
<line x1="244.5" y1="674.4" x2="336.4" y2="674.4" stroke="#3a3a3a" stroke-width="0.8"/>
<polygon points="244.5,674.4 249.1,672.7 249.1,676.1" fill="#3a3a3a"/>
<polygon points="307.4,674.4 302.8,676.1 302.8,672.7" fill="#3a3a3a"/>
<polygon points="307.4,674.4 312,672.7 312,676.1" fill="#3a3a3a"/>
<polygon points="336.4,674.4 331.8,676.1 331.8,672.7" fill="#3a3a3a"/>
<line x1="109" y1="690" x2="336.4" y2="690" stroke="#3a3a3a" stroke-width="0.8"/>
<polygon points="109,690 113.6,688.3 113.6,691.7" fill="#3a3a3a"/>
<polygon points="336.4,690 331.8,691.7 331.8,688.3" fill="#3a3a3a"/>
<line x1="399.3" y1="646" x2="399.3" y2="693.5" stroke="#3a3a3a" stroke-width="0.7"/>
<line x1="475.3" y1="613" x2="475.3" y2="708.5" stroke="#3a3a3a" stroke-width="0.7"/>
<line x1="336.4" y1="690" x2="475.3" y2="690" stroke="#3a3a3a" stroke-width="0.8"/>
<polygon points="336.4,690 341,688.3 341,691.7" fill="#3a3a3a"/>
<polygon points="399.3,690 394.7,691.7 394.7,688.3" fill="#3a3a3a"/>
<polygon points="399.3,690 403.9,688.3 403.9,691.7" fill="#3a3a3a"/>
<polygon points="475.3,690 470.7,691.7 470.7,688.3" fill="#3a3a3a"/>
<line x1="109" y1="705.8" x2="475.3" y2="705.8" stroke="#3a3a3a" stroke-width="0.8"/>
<polygon points="109,705.8 113.6,704.1 113.6,707.5" fill="#3a3a3a"/>
<polygon points="475.3,705.8 470.7,707.5 470.7,704.1" fill="#3a3a3a"/>
</g>
<g id="table">
<rect x="20" y="812" width="716.4" height="17" fill="#dedede"/>
<rect x="20" y="945.2" width="716.4" height="17.6" fill="#dedede"/>
<rect x="20" y="980.6" width="716.4" height="17.8" fill="#dedede"/>
<line x1="19.2" y1="812" x2="737.2" y2="812" stroke="#2a2a2a" stroke-width="1.8"/>
<line x1="20" y1="829" x2="736.4" y2="829" stroke="#2a2a2a" stroke-width="1.8"/>
<line x1="20" y1="945.2" x2="736.4" y2="945.2" stroke="#2a2a2a" stroke-width="1.5"/>
<line x1="20" y1="962.8" x2="736.4" y2="962.8" stroke="#2a2a2a" stroke-width="1.5"/>
<line x1="20" y1="980.6" x2="736.4" y2="980.6" stroke="#2a2a2a" stroke-width="1.5"/>
<line x1="20" y1="998.4" x2="736.4" y2="998.4" stroke="#2a2a2a" stroke-width="1.5"/>
<line x1="19.5" y1="1016" x2="736.9" y2="1016" stroke="#2a2a2a" stroke-width="1.6"/>
<line x1="20" y1="812" x2="20" y2="945.2" stroke="#2a2a2a" stroke-width="1.6"/>
<line x1="736.4" y1="812" x2="736.4" y2="945.2" stroke="#2a2a2a" stroke-width="1.6"/>
<line x1="419.9" y1="812" x2="419.9" y2="1016" stroke="#2a2a2a" stroke-width="1.6"/>
<line x1="86.8" y1="945.2" x2="86.8" y2="1016" stroke="#2a2a2a" stroke-width="1.4"/>
<line x1="153.4" y1="945.2" x2="153.4" y2="1016" stroke="#2a2a2a" stroke-width="1.4"/>
<line x1="220" y1="945.2" x2="220" y2="1016" stroke="#2a2a2a" stroke-width="1.4"/>
<line x1="286.8" y1="945.2" x2="286.8" y2="1016" stroke="#2a2a2a" stroke-width="1.4"/>
<line x1="353.4" y1="945.2" x2="353.4" y2="1016" stroke="#2a2a2a" stroke-width="1.4"/>
<line x1="483.6" y1="945.2" x2="483.6" y2="1016" stroke="#2a2a2a" stroke-width="1.4"/>
<line x1="546.8" y1="945.2" x2="546.8" y2="1016" stroke="#2a2a2a" stroke-width="1.4"/>
<line x1="610" y1="945.2" x2="610" y2="1016" stroke="#2a2a2a" stroke-width="1.4"/>
<line x1="673.4" y1="945.2" x2="673.4" y2="1016" stroke="#2a2a2a" stroke-width="1.4"/>
<line x1="175" y1="848" x2="175" y2="905" stroke="#666" stroke-width="0.7"/>
<line x1="261.2" y1="848" x2="261.2" y2="905" stroke="#666" stroke-width="0.7"/>
<line x1="175" y1="848" x2="261.2" y2="848" stroke="#444" stroke-width="0.8"/>
<line x1="175" y1="851" x2="261.2" y2="851" stroke="#666" stroke-width="0.6"/>
<line x1="175" y1="859" x2="261.2" y2="859" stroke="#333" stroke-width="1.2"/>
<line x1="175" y1="861.1" x2="261.2" y2="861.1" stroke="#444" stroke-width="1.0"/>
<line x1="175" y1="864.4" x2="261.2" y2="864.4" stroke="#666" stroke-width="0.6"/>
<line x1="175" y1="888" x2="261.2" y2="888" stroke="#333" stroke-width="1.2"/>
<line x1="175" y1="889.8" x2="261.2" y2="889.8" stroke="#555" stroke-width="0.8"/>
<line x1="175" y1="893.6" x2="261.2" y2="893.6" stroke="#555" stroke-width="0.8"/>
<line x1="175" y1="896" x2="261.2" y2="896" stroke="#777" stroke-width="0.6"/>
<line x1="175" y1="901.6" x2="261.2" y2="901.6" stroke="#666" stroke-width="0.6"/>
<line x1="175" y1="905" x2="261.2" y2="905" stroke="#555" stroke-width="0.8"/>
<line x1="172.6" y1="876.6" x2="263.6" y2="876.6" stroke="#777" stroke-width="0.5" stroke-dasharray="10 2 2 2"/>
<circle cx="190.4" cy="876.6" r="3.1" fill="#fff" stroke="#222" stroke-width="1.1"/>
<line x1="190.4" y1="871" x2="190.4" y2="932.2" stroke="#444" stroke-width="0.7"/>
<circle cx="218" cy="876.6" r="3.1" fill="#fff" stroke="#222" stroke-width="1.1"/>
<line x1="218" y1="871" x2="218" y2="932.2" stroke="#444" stroke-width="0.7"/>
<circle cx="245.6" cy="876.6" r="3.1" fill="#fff" stroke="#222" stroke-width="1.1"/>
<line x1="245.6" y1="871" x2="245.6" y2="932.2" stroke="#444" stroke-width="0.7"/>
<line x1="190.4" y1="929.4" x2="218" y2="929.4" stroke="#3a3a3a" stroke-width="0.7"/>
<polygon points="190.4,929.4 195,927.7 195,931.1" fill="#3a3a3a"/>
<polygon points="218,929.4 213.4,931.1 213.4,927.7" fill="#3a3a3a"/>
<line x1="218" y1="929.4" x2="245.6" y2="929.4" stroke="#3a3a3a" stroke-width="0.7"/>
<polygon points="218,929.4 222.6,927.7 222.6,931.1" fill="#3a3a3a"/>
<polygon points="245.6,929.4 241,931.1 241,927.7" fill="#3a3a3a"/>
<line x1="494.2" y1="845.8" x2="494.2" y2="903.2" stroke="#666" stroke-width="0.7"/>
<line x1="667.8" y1="845.8" x2="667.8" y2="903.2" stroke="#666" stroke-width="0.7"/>
<line x1="494.2" y1="845.8" x2="667.8" y2="845.8" stroke="#444" stroke-width="0.8"/>
<line x1="494.2" y1="848.9" x2="667.8" y2="848.9" stroke="#666" stroke-width="0.6"/>
<line x1="494.2" y1="856.3" x2="667.8" y2="856.3" stroke="#222" stroke-width="1.5"/>
<line x1="494.2" y1="860.9" x2="667.8" y2="860.9" stroke="#888" stroke-width="0.6"/>
<line x1="494.2" y1="863" x2="667.8" y2="863" stroke="#888" stroke-width="0.6"/>
<line x1="494.2" y1="885.7" x2="667.8" y2="885.7" stroke="#222" stroke-width="1.6"/>
<line x1="494.2" y1="891.5" x2="667.8" y2="891.5" stroke="#444" stroke-width="1.0"/>
<line x1="494.2" y1="893.7" x2="667.8" y2="893.7" stroke="#888" stroke-width="0.6"/>
<line x1="494.2" y1="899" x2="667.8" y2="899" stroke="#777" stroke-width="0.7"/>
<line x1="494.2" y1="903.2" x2="667.8" y2="903.2" stroke="#666" stroke-width="0.8"/>
<line x1="491.8" y1="874.4" x2="670.2" y2="874.4" stroke="#777" stroke-width="0.5" stroke-dasharray="10 2 2 2"/>
<circle cx="509.2" cy="874.4" r="3.1" fill="#fff" stroke="#222" stroke-width="1.1"/>
<line x1="509.2" y1="868.8" x2="509.2" y2="931" stroke="#444" stroke-width="0.7"/>
<circle cx="557" cy="874.4" r="3.1" fill="#fff" stroke="#222" stroke-width="1.1"/>
<line x1="557" y1="868.8" x2="557" y2="931" stroke="#444" stroke-width="0.7"/>
<circle cx="605" cy="874.4" r="3.1" fill="#fff" stroke="#222" stroke-width="1.1"/>
<line x1="605" y1="868.8" x2="605" y2="931" stroke="#444" stroke-width="0.7"/>
<circle cx="652.8" cy="874.4" r="3.1" fill="#fff" stroke="#222" stroke-width="1.1"/>
<line x1="652.8" y1="868.8" x2="652.8" y2="931" stroke="#444" stroke-width="0.7"/>
<line x1="509.2" y1="928.2" x2="557" y2="928.2" stroke="#3a3a3a" stroke-width="0.7"/>
<polygon points="509.2,928.2 513.8,926.5 513.8,929.9" fill="#3a3a3a"/>
<polygon points="557,928.2 552.4,929.9 552.4,926.5" fill="#3a3a3a"/>
<line x1="557" y1="928.2" x2="605" y2="928.2" stroke="#3a3a3a" stroke-width="0.7"/>
<polygon points="557,928.2 561.6,926.5 561.6,929.9" fill="#3a3a3a"/>
<polygon points="605,928.2 600.4,929.9 600.4,926.5" fill="#3a3a3a"/>
<line x1="605" y1="928.2" x2="652.8" y2="928.2" stroke="#3a3a3a" stroke-width="0.7"/>
<polygon points="605,928.2 609.6,926.5 609.6,929.9" fill="#3a3a3a"/>
<polygon points="652.8,928.2 648.2,929.9 648.2,926.5" fill="#3a3a3a"/>
</g>
<g id="labels">
<text x="20.6" y="30.5" font-size="22.6" fill="#161616" font-weight="bold" font-style="italic" stroke="#161616" stroke-width="0.45">Series</text>
<text x="98.4" y="30.6" font-size="29.6" fill="#161616" font-weight="bold" font-style="italic" stroke="#161616" stroke-width="0.45">MRQ</text>
<text x="19.2" y="87.4" font-size="19" fill="#161616" font-weight="bold" stroke="#161616" stroke-width="0.45" textLength="37.4" lengthAdjust="spacingAndGlyphs">Size</text>
<text x="63.6" y="87.5" font-size="43.6" fill="#161616" font-weight="bold" stroke="#161616" stroke-width="0.45" textLength="47" lengthAdjust="spacingAndGlyphs">40</text>
<text x="309.5" y="85.6" font-size="20.5" fill="#161616" font-weight="bold" stroke="#161616" stroke-width="0.3">Basic Style: MRQBS40</text>
<text x="283.2" y="183.3" font-size="9.7" fill="#1c1c1c" text-anchor="end" stroke="#1c1c1c" stroke-width="0.25">Note) M6 x 1 depth 7</text>
<text x="105.3" y="197.8" font-size="9.3" fill="#1c1c1c" stroke="#1c1c1c" stroke-width="0.25" word-spacing="1.38">Number of mounting screws and distance</text>
<text x="105.3" y="207.5" font-size="9.3" fill="#1c1c1c" stroke="#1c1c1c" stroke-width="0.25" word-spacing="0.06">between screws are different depending on</text>
<text x="105.3" y="217.2" font-size="9.3" fill="#1c1c1c" stroke="#1c1c1c" stroke-width="0.25" word-spacing="1.29">the strokes. Refer to the "Mounting screw</text>
<text x="105.3" y="226.8" font-size="9.3" fill="#1c1c1c" stroke="#1c1c1c" stroke-width="0.25">dimensions (Distinction of stroke)" below.</text>
<text x="86.8" y="287.2" font-size="9.2" fill="#1c1c1c" transform="rotate(-90 86.8 287.2)" stroke="#1c1c1c" stroke-width="0.25">(Max. 7)</text>
<text transform="translate(90.4 354.8) rotate(-90) scale(1.42 1.1)" font-size="13" fill="#1c1c1c" stroke="#1c1c1c" stroke-width="0.35">&#9633;</text>
<text x="89.8" y="342.6" font-size="9.6" fill="#1c1c1c" transform="rotate(-90 89.8 342.6)" stroke="#1c1c1c" stroke-width="0.25">52</text>
<text x="151.8" y="264.4" font-size="9.4" fill="#1c1c1c" text-anchor="middle" stroke="#1c1c1c" stroke-width="0.25">18.5</text>
<text x="297" y="264.2" font-size="9.4" fill="#1c1c1c" text-anchor="middle" stroke="#1c1c1c" stroke-width="0.25">49</text>
<text x="384.6" y="198.2" font-size="9.4" fill="#1c1c1c" text-anchor="middle" stroke="#1c1c1c" stroke-width="0.25">18.5</text>
<text x="413.4" y="294.6" font-size="9.75" fill="#1c1c1c" transform="rotate(-90 413.4 294.6)" stroke="#1c1c1c" stroke-width="0.25">Width across flats 14.2</text>
<text x="486.4" y="327.5" font-size="8.6" fill="#1c1c1c" transform="rotate(-90 486.4 327.5)" stroke="#1c1c1c" stroke-width="0.25">&#248;14</text>
<text x="482.8" y="309" font-size="5" fill="#1c1c1c" transform="rotate(-90 482.8 309)" stroke="#1c1c1c" stroke-width="0.25">0</text>
<text x="487.2" y="312" font-size="5" fill="#1c1c1c" transform="rotate(-90 487.2 312)" stroke="#1c1c1c" stroke-width="0.25">&#8211;0.05</text>
<text x="449.8" y="364.8" font-size="9.4" fill="#1c1c1c" text-anchor="middle" stroke="#1c1c1c" stroke-width="0.25">32</text>
<text x="446.6" y="221.6" font-size="9.4" fill="#1c1c1c" stroke="#1c1c1c" stroke-width="0.25">2 x M5 x 0.8 (Plug, Back side)</text>
<text x="446.6" y="234.9" font-size="9.7" fill="#1c1c1c" stroke="#1c1c1c" stroke-width="0.25">Rotating port</text>
<text x="112.2" y="407.6" font-size="9.7" fill="#1c1c1c" stroke="#1c1c1c" stroke-width="0.25">Auto switch</text>
<text x="165.4" y="433.7" font-size="9.7" fill="#1c1c1c" stroke="#1c1c1c" stroke-width="0.25">Linear motion</text>
<text x="285.6" y="457.8" font-size="11" fill="#1c1c1c" text-anchor="middle" stroke="#1c1c1c" stroke-width="0.25">E</text>
<text x="415.2" y="455" font-size="9.7" fill="#1c1c1c" stroke="#1c1c1c" stroke-width="0.25">Rotary motion</text>
<text x="583.4" y="185.8" font-size="9.4" fill="#1c1c1c" text-anchor="middle" stroke="#1c1c1c" stroke-width="0.25">8</text>
<text x="617.2" y="185.8" font-size="9.4" fill="#1c1c1c" text-anchor="middle" stroke="#1c1c1c" stroke-width="0.25">34</text>
<text x="620.6" y="199.2" font-size="9.4" fill="#1c1c1c" text-anchor="middle" stroke="#1c1c1c" stroke-width="0.25">30</text>
<text x="560" y="273.4" font-size="9.4" fill="#1c1c1c" transform="rotate(-90 560 273.4)" stroke="#1c1c1c" stroke-width="0.25">10.5</text>
<text x="704.8" y="213.2" font-size="9.2" fill="#1c1c1c" transform="rotate(-90 704.8 213.2)" stroke="#1c1c1c" stroke-width="0.25">(Max. &#8786;11.5)</text>
<text x="687.8" y="254.6" font-size="9.4" fill="#1c1c1c" transform="rotate(-90 687.8 254.6)" stroke="#1c1c1c" stroke-width="0.25">16</text>
<text x="693.4" y="347.8" font-size="9.4" fill="#1c1c1c" transform="rotate(-90 693.4 347.8)" stroke="#1c1c1c" stroke-width="0.25">66</text>
<text x="706.4" y="401.8" font-size="9.3" fill="#1c1c1c" transform="rotate(-90 706.4 401.8)" stroke="#1c1c1c" stroke-width="0.25">132 (Rotating angle 180&#176;: 170)</text>
<text x="687.6" y="435.4" font-size="9.4" fill="#1c1c1c" transform="rotate(-90 687.6 435.4)" stroke="#1c1c1c" stroke-width="0.25">16</text>
<text x="619.6" y="458" font-size="9.4" fill="#1c1c1c" text-anchor="middle" stroke="#1c1c1c" stroke-width="0.25">24</text>
<text x="619.6" y="471.2" font-size="9.4" fill="#1c1c1c" text-anchor="middle" stroke="#1c1c1c" stroke-width="0.25">56</text>
<text x="614.4" y="497" font-size="8.9" fill="#1c1c1c" stroke="#1c1c1c" stroke-width="0.25">4 x M6 x 1 depth 7</text>
<text x="90" y="540" font-size="9.4" fill="#1c1c1c" text-anchor="middle" stroke="#1c1c1c" stroke-width="0.25">6.5</text>
<text x="128.6" y="540" font-size="9.4" fill="#1c1c1c" text-anchor="middle" stroke="#1c1c1c" stroke-width="0.25">12</text>
<text x="60.6" y="604.2" font-size="9.6" fill="#1c1c1c" transform="rotate(-90 60.6 604.2)" stroke="#1c1c1c" stroke-width="0.25">57</text>
<text x="73.8" y="584" font-size="9.4" fill="#1c1c1c" transform="rotate(-90 73.8 584)" stroke="#1c1c1c" stroke-width="0.25">31</text>
<text x="89.2" y="611" font-size="9.4" fill="#1c1c1c" transform="rotate(-90 89.2 611)" stroke="#1c1c1c" stroke-width="0.25"><tspan font-size="8.4">&#248;</tspan>40</text>
<text x="192.6" y="515.2" font-size="9.8" fill="#1c1c1c" stroke="#1c1c1c" stroke-width="0.25">2 x Rc1/8<tspan font-size="12" dy="-0.6">*</tspan></text>
<text x="192.6" y="527.5" font-size="9.7" fill="#1c1c1c" stroke="#1c1c1c" stroke-width="0.25">Linear port</text>
<text x="297.2" y="539.6" font-size="9.4" fill="#1c1c1c" text-anchor="middle" stroke="#1c1c1c" stroke-width="0.25">49</text>
<text x="383.4" y="539.4" font-size="9.4" fill="#1c1c1c" text-anchor="middle" stroke="#1c1c1c" stroke-width="0.25">20</text>
<text x="404.8" y="539.4" font-size="9.4" fill="#1c1c1c" text-anchor="middle" stroke="#1c1c1c" stroke-width="0.25">8</text>
<text x="345.6" y="514" font-size="9.8" fill="#1c1c1c" stroke="#1c1c1c" stroke-width="0.25">2 x Rc1/8<tspan font-size="12" dy="-0.6">*</tspan></text>
<text x="342" y="527.7" font-size="9.8" fill="#1c1c1c" stroke="#1c1c1c" stroke-width="0.25">Rotating port</text>
<text x="434" y="520.2" font-size="9.8" fill="#1c1c1c" stroke="#1c1c1c" stroke-width="0.25">A port</text>
<text x="434.6" y="544.8" font-size="9.7" fill="#1c1c1c" stroke="#1c1c1c" stroke-width="0.25">B port</text>
<text x="489" y="607.6" font-size="9.4" fill="#1c1c1c" transform="rotate(-90 489 607.6)" stroke="#1c1c1c" stroke-width="0.25">32</text>
<text x="504.6" y="621.4" font-size="10.2" fill="#1c1c1c" transform="rotate(-90 504.6 621.4)" stroke="#1c1c1c" stroke-width="0.25"><tspan font-size="9">&#248;</tspan>52h9</text>
<text x="424.6" y="672" font-size="9.5" fill="#1c1c1c" stroke="#1c1c1c" stroke-width="0.25">Auto switch</text>
<text x="132.4" y="671.6" font-size="9.4" fill="#1c1c1c" text-anchor="middle" stroke="#1c1c1c" stroke-width="0.25">30.5</text>
<text x="275.6" y="671.6" font-size="9.4" fill="#1c1c1c" text-anchor="middle" stroke="#1c1c1c" stroke-width="0.25">40</text>
<text x="322.2" y="671.6" font-size="9.4" fill="#1c1c1c" text-anchor="middle" stroke="#1c1c1c" stroke-width="0.25">18</text>
<text x="212" y="686.4" font-size="9.4" fill="#1c1c1c" text-anchor="middle" stroke="#1c1c1c" stroke-width="0.25">128.5 + Stroke</text>
<text x="366.2" y="687.2" font-size="10.0" fill="#1c1c1c" text-anchor="middle" stroke="#1c1c1c" stroke-width="0.25">40</text>
<text x="445.2" y="687.2" font-size="10.0" fill="#1c1c1c" text-anchor="middle" stroke="#1c1c1c" stroke-width="0.25">48</text>
<text x="283.2" y="702.6" font-size="9.4" fill="#1c1c1c" text-anchor="middle" stroke="#1c1c1c" stroke-width="0.25">216.5 + Stroke</text>
<text x="107" y="736.2" font-size="9.75" fill="#1c1c1c" stroke="#1c1c1c" stroke-width="0.25">In addition to Rc 1/8, G1/8 and NPT 1/8 are also available.</text>
<text x="19.4" y="807.3" font-size="14.52" fill="#111" font-weight="bold" stroke="#111" stroke-width="0.25">Mounting Screw Dimensions (Distinction of stroke)</text>
<text x="220.2" y="825" font-size="14.56" fill="#222" text-anchor="middle" stroke="#222" stroke-width="0.25">Mounting screw 3 pcs.</text>
<text x="578.4" y="825" font-size="14.56" fill="#222" text-anchor="middle" stroke="#222" stroke-width="0.25">Mounting screw 4 pcs.</text>
<text x="406.6" y="942.4" font-size="7.6" fill="#1c1c1c" text-anchor="middle" stroke="#1c1c1c" stroke-width="0.25">(mm)</text>
<text x="723.8" y="942.4" font-size="7.6" fill="#1c1c1c" text-anchor="middle" stroke="#1c1c1c" stroke-width="0.25">(mm)</text>
<text x="51.8" y="957.4" font-size="9.9" fill="#1c1c1c" text-anchor="middle" stroke="#1c1c1c" stroke-width="0.35">Stroke</text>
<text x="51.8" y="975.4" font-size="13" fill="#111" text-anchor="middle" font-weight="bold" stroke="#111" stroke-width="0.25">Y</text>
<text x="51.8" y="993.2" font-size="13" fill="#111" text-anchor="middle" font-weight="bold" stroke="#111" stroke-width="0.25">Q</text>
<text x="51.8" y="1011" font-size="13" fill="#111" text-anchor="middle" font-weight="bold" stroke="#111" stroke-width="0.25">E</text>
<text x="115.4" y="958.6" font-size="10.2" fill="#1c1c1c" stroke="#1c1c1c" stroke-width="0.4">5</text>
<text x="180" y="958.6" font-size="10.2" fill="#1c1c1c" stroke="#1c1c1c" stroke-width="0.4">10</text>
<text x="244.6" y="958.6" font-size="10.2" fill="#1c1c1c" stroke="#1c1c1c" stroke-width="0.4">15</text>
<text x="312.6" y="958.6" font-size="10.2" fill="#1c1c1c" stroke="#1c1c1c" stroke-width="0.4">20</text>
<text x="376.8" y="958.6" font-size="10.2" fill="#1c1c1c" stroke="#1c1c1c" stroke-width="0.4">25</text>
<text x="444.3" y="958.6" font-size="10.2" fill="#1c1c1c" stroke="#1c1c1c" stroke-width="0.4">30</text>
<text x="504.2" y="958.6" font-size="10.2" fill="#1c1c1c" stroke="#1c1c1c" stroke-width="0.4">40</text>
<text x="567" y="958.6" font-size="10.2" fill="#1c1c1c" stroke="#1c1c1c" stroke-width="0.4">50</text>
<text x="632" y="958.6" font-size="10.2" fill="#1c1c1c" stroke="#1c1c1c" stroke-width="0.4">75</text>
<text x="695.6" y="958.6" font-size="10.2" fill="#1c1c1c" stroke="#1c1c1c" stroke-width="0.4">100</text>
<text x="110" y="976.4" font-size="10.2" fill="#1c1c1c" stroke="#1c1c1c" stroke-width="0.4">12.5</text>
<text x="180" y="976.4" font-size="10.2" fill="#1c1c1c" stroke="#1c1c1c" stroke-width="0.4">15</text>
<text x="244.6" y="976.4" font-size="10.2" fill="#1c1c1c" stroke="#1c1c1c" stroke-width="0.4">15</text>
<text x="312.6" y="976.4" font-size="10.2" fill="#1c1c1c" stroke="#1c1c1c" stroke-width="0.4">20</text>
<text x="376.8" y="976.4" font-size="10.2" fill="#1c1c1c" stroke="#1c1c1c" stroke-width="0.4">20</text>
<text x="444.3" y="976.4" font-size="10.2" fill="#1c1c1c" stroke="#1c1c1c" stroke-width="0.4">15</text>
<text x="504.2" y="976.4" font-size="10.2" fill="#1c1c1c" stroke="#1c1c1c" stroke-width="0.4">17.5</text>
<text x="567" y="976.4" font-size="10.2" fill="#1c1c1c" stroke="#1c1c1c" stroke-width="0.4">17.5</text>
<text x="632" y="976.4" font-size="10.2" fill="#1c1c1c" stroke="#1c1c1c" stroke-width="0.4">25</text>
<text x="695.6" y="976.4" font-size="10.2" fill="#1c1c1c" stroke="#1c1c1c" stroke-width="0.4">30</text>
<text x="119.9" y="993.6" font-size="10.2" fill="#1c1c1c" text-anchor="middle" font-weight="bold" stroke="#1c1c1c" stroke-width="0.25">&#8211;</text>
<text x="185.7" y="993.6" font-size="10.2" fill="#1c1c1c" text-anchor="middle" font-weight="bold" stroke="#1c1c1c" stroke-width="0.25">&#8211;</text>
<text x="254.5" y="993.6" font-size="10.2" fill="#1c1c1c" text-anchor="middle" font-weight="bold" stroke="#1c1c1c" stroke-width="0.25">&#8211;</text>
<text x="318.2" y="993.6" font-size="10.2" fill="#1c1c1c" text-anchor="middle" font-weight="bold" stroke="#1c1c1c" stroke-width="0.25">&#8211;</text>
<text x="386.7" y="993.6" font-size="10.2" fill="#1c1c1c" text-anchor="middle" font-weight="bold" stroke="#1c1c1c" stroke-width="0.25">&#8211;</text>
<text x="444.3" y="994.2" font-size="10.2" fill="#1c1c1c" stroke="#1c1c1c" stroke-width="0.4">20</text>
<text x="504.2" y="994.2" font-size="10.2" fill="#1c1c1c" stroke="#1c1c1c" stroke-width="0.4">20</text>
<text x="567" y="994.2" font-size="10.2" fill="#1c1c1c" stroke="#1c1c1c" stroke-width="0.4">20</text>
<text x="632" y="994.2" font-size="10.2" fill="#1c1c1c" stroke="#1c1c1c" stroke-width="0.4">20</text>
<text x="695.6" y="994.2" font-size="10.2" fill="#1c1c1c" stroke="#1c1c1c" stroke-width="0.4">30</text>
<text x="110" y="1011.8" font-size="10.2" fill="#1c1c1c" stroke="#1c1c1c" stroke-width="0.4">68</text>
<text x="180" y="1011.8" font-size="10.2" fill="#1c1c1c" stroke="#1c1c1c" stroke-width="0.4">68</text>
<text x="244.6" y="1011.8" font-size="10.2" fill="#1c1c1c" stroke="#1c1c1c" stroke-width="0.4">70.5</text>
<text x="312.6" y="1011.8" font-size="10.2" fill="#1c1c1c" stroke="#1c1c1c" stroke-width="0.4">68</text>
<text x="376.8" y="1011.8" font-size="10.2" fill="#1c1c1c" stroke="#1c1c1c" stroke-width="0.4">70.5</text>
<text x="444.3" y="1011.8" font-size="10.2" fill="#1c1c1c" stroke="#1c1c1c" stroke-width="0.4">68</text>
<text x="504.2" y="1011.8" font-size="10.2" fill="#1c1c1c" stroke="#1c1c1c" stroke-width="0.4">70.5</text>
<text x="567" y="1011.8" font-size="10.2" fill="#1c1c1c" stroke="#1c1c1c" stroke-width="0.4">75.5</text>
<text x="632" y="1011.8" font-size="10.2" fill="#1c1c1c" stroke="#1c1c1c" stroke-width="0.4">80.5</text>
<text x="695.6" y="1011.8" font-size="10.2" fill="#1c1c1c" stroke="#1c1c1c" stroke-width="0.4">83</text>
<text x="203.6" y="927" font-size="10.4" fill="#1c1c1c" text-anchor="middle" stroke="#1c1c1c" stroke-width="0.25">Y</text>
<text x="231.6" y="927" font-size="10.4" fill="#1c1c1c" text-anchor="middle" stroke="#1c1c1c" stroke-width="0.25">Y</text>
<text x="533.4" y="925.8" font-size="10.4" fill="#1c1c1c" text-anchor="middle" stroke="#1c1c1c" stroke-width="0.25">Y</text>
<text x="581" y="925.8" font-size="10.4" fill="#1c1c1c" text-anchor="middle" stroke="#1c1c1c" stroke-width="0.25">Q</text>
<text x="628.6" y="925.8" font-size="10.4" fill="#1c1c1c" text-anchor="middle" stroke="#1c1c1c" stroke-width="0.25">Y</text>
</g>
</svg>
</body>
</html>
